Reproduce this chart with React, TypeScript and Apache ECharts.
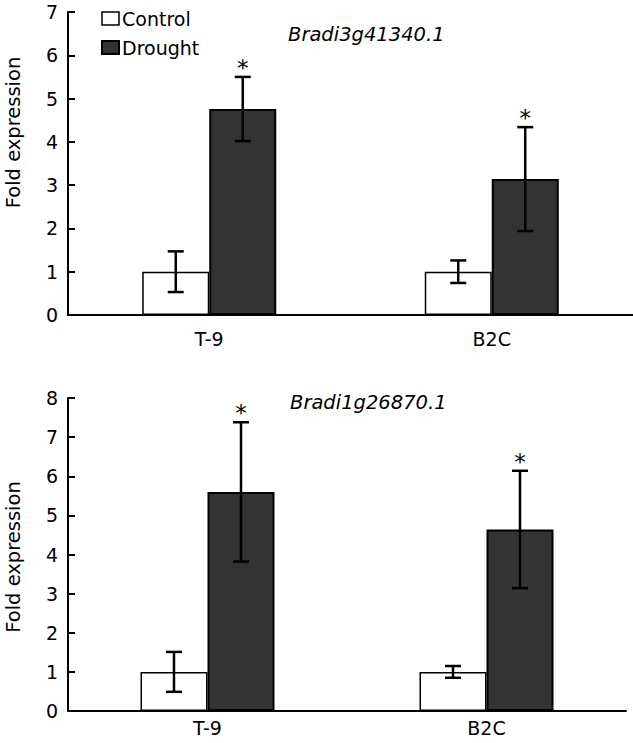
import React, { useEffect, useRef } from "react";
import * as echarts from "echarts";

const categories = ["T-9", "B2C"];
const seriesNames = ["Control", "Drought"];

// Panel 1: Bradi3g41340.1
const gene1 = "Bradi3g41340.1";
const controlMean1 = [1.0, 1.0];
const controlErr1 = [0.47, 0.26];
const droughtMean1 = [4.76, 3.14];
const droughtErr1 = [0.74, 1.2];
const droughtSig1 = ["*", "*"];

// Panel 2: Bradi1g26870.1
const gene2 = "Bradi1g26870.1";
const controlMean2 = [1.0, 1.0];
const controlErr2 = [0.51, 0.15];
const droughtMean2 = [5.6, 4.64];
const droughtErr2 = [1.78, 1.5];
const droughtSig2 = ["*", "*"];

const yMax1 = 7;
const yMax2 = 8;
const yLabel = "Fold expression";

const FONT = "DejaVu Sans";
const BAR_W = 67;

function errData(cMean: number[], cErr: number[], dMean: number[], dErr: number[], sig: string[]) {
  const out: any[] = [];
  categories.forEach((_, i) => {
    out.push([i, cMean[i], cErr[i], -1, 0]);
    out.push([i, dMean[i], dErr[i], 1, sig[i] ? 1 : 0]);
  });
  return out;
}

const renderErr = (params: any, api: any) => {
  const cat = api.value(0);
  const mean = api.value(1);
  const err = api.value(2);
  const side = api.value(3);
  const star = api.value(4);
  const x = api.coord([cat, mean])[0] + side * (BAR_W / 2);
  const yTop = api.coord([cat, mean + err])[1];
  const yBot = api.coord([cat, mean - err])[1];
  const cap = 8;
  const ls = { stroke: "#000", lineWidth: 2.5 };
  const children: any[] = [
    { type: "line", shape: { x1: x, y1: yTop, x2: x, y2: yBot }, style: ls },
    { type: "line", shape: { x1: x - cap, y1: yTop, x2: x + cap, y2: yTop }, style: ls },
    { type: "line", shape: { x1: x - cap, y1: yBot, x2: x + cap, y2: yBot }, style: ls },
  ];
  if (star) {
    children.push({
      type: "text",
      style: {
        text: "*",
        x: x,
        y: yTop - 9,
        align: "center",
        verticalAlign: "middle",
        fontSize: 23,
        fontFamily: FONT,
        fill: "#000",
      },
    });
  }
  return { type: "group", children };
};

export default function App() {
  const ref = useRef<HTMLDivElement>(null);
  useEffect(() => {
    if (!ref.current) return;
    const chart = echarts.init(ref.current, undefined, { renderer: "svg" });
    const axisLine = { show: true, lineStyle: { color: "#000", width: 2 } };
    const controlStyle = { color: "#ffffff", borderColor: "#000", borderWidth: 1.5 };
    const droughtStyle = { color: "#333333", borderColor: "#000", borderWidth: 2 };
    const mkX = (idx: number, margin: number) => ({
      gridIndex: idx,
      type: "category",
      data: categories,
      axisLine,
      axisTick: { show: false },
      axisLabel: { color: "#000", fontSize: 19, fontFamily: FONT, margin },
    });
    const mkY = (idx: number, max: number) => ({
      gridIndex: idx,
      type: "value",
      min: 0,
      max,
      interval: 1,
      axisLine,
      axisTick: { show: true, inside: true, length: 7, lineStyle: { color: "#000", width: 2 } },
      splitLine: { show: false },
      axisLabel: { color: "#000", fontSize: 19, fontFamily: FONT, margin: 10 },
    });
    const option: any = {
      animation: false,
      textStyle: { fontFamily: FONT },
      legend: {
        data: [
          { name: seriesNames[0], itemStyle: controlStyle },
          { name: seriesNames[1], itemStyle: droughtStyle },
        ],
        orient: "vertical",
        left: 96,
        top: 4,
        icon: "rect",
        itemWidth: 17,
        itemHeight: 13,
        itemGap: 10,
        selectedMode: false,
        textStyle: { fontSize: 19, color: "#000", fontFamily: FONT, padding: [0, 0, 0, -2] },
      },
      grid: [
        { left: 68, top: 12, width: 565, height: 303 },
        { left: 68, top: 398, width: 558, height: 313 },
      ],
      xAxis: [mkX(0, 14), mkX(1, 7)],
      yAxis: [mkY(0, yMax1), mkY(1, yMax2)],
      series: [
        { name: seriesNames[0], type: "bar", xAxisIndex: 0, yAxisIndex: 0, data: controlMean1, barWidth: BAR_W, barGap: "0%", itemStyle: controlStyle },
        { name: seriesNames[1], type: "bar", xAxisIndex: 0, yAxisIndex: 0, data: droughtMean1, barWidth: BAR_W, barGap: "0%", itemStyle: droughtStyle },
        { name: seriesNames[0], type: "bar", xAxisIndex: 1, yAxisIndex: 1, data: controlMean2, barWidth: BAR_W, barGap: "0%", itemStyle: controlStyle },
        { name: seriesNames[1], type: "bar", xAxisIndex: 1, yAxisIndex: 1, data: droughtMean2, barWidth: BAR_W, barGap: "0%", itemStyle: droughtStyle },
        { name: "err1", type: "custom", xAxisIndex: 0, yAxisIndex: 0, data: errData(controlMean1, controlErr1, droughtMean1, droughtErr1, droughtSig1), renderItem: renderErr, z: 10, clip: false },
        { name: "err2", type: "custom", xAxisIndex: 1, yAxisIndex: 1, data: errData(controlMean2, controlErr2, droughtMean2, droughtErr2, droughtSig2), renderItem: renderErr, z: 10, clip: false },
      ],
      graphic: [
        { type: "text", x: 288, y: 34.5, style: { text: gene1, fontSize: 19.5, fontStyle: "italic", fontFamily: FONT, fill: "#000", verticalAlign: "middle" } },
        { type: "text", x: 290, y: 402.5, style: { text: gene2, fontSize: 19.5, fontStyle: "italic", fontFamily: FONT, fill: "#000", verticalAlign: "middle" } },
        { type: "text", x: 13.5, y: 132.5, rotation: Math.PI / 2, style: { text: yLabel, fontSize: 19.5, fontFamily: FONT, fill: "#000", align: "center", verticalAlign: "middle" } },
        { type: "text", x: 13.5, y: 557, rotation: Math.PI / 2, style: { text: yLabel, fontSize: 19.5, fontFamily: FONT, fill: "#000", align: "center", verticalAlign: "middle" } },
      ],
    };
    chart.setOption(option);
    return () => chart.dispose();
  }, []);
  return <div ref={ref} style={{ position: "absolute", left: 0, top: 0, width: 633, height: 743, background: "#fff" }} />;
}
